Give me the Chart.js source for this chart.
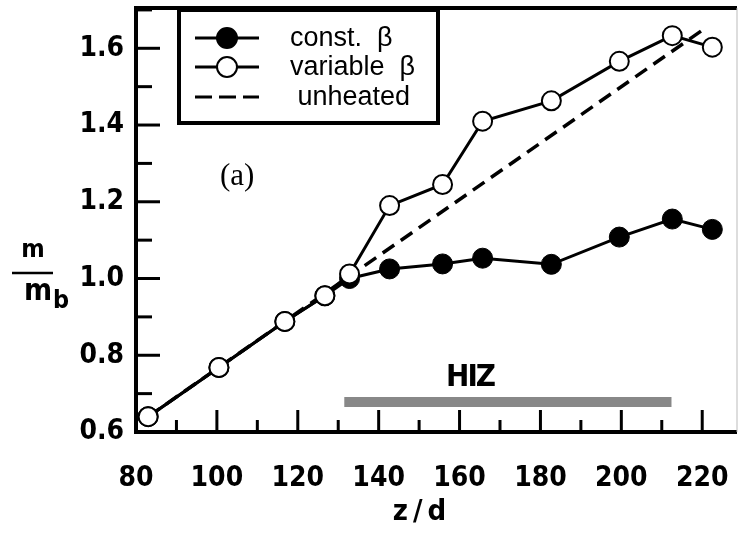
<!DOCTYPE html>
<html>
<head>
<meta charset="utf-8">
<script src="https://cdn.jsdelivr.net/npm/chart.js@4/dist/chart.umd.min.js"></script>
<style>
  html, body { margin: 0; padding: 0; background: #fff; }
  #wrap { width: 740px; height: 533px; }
</style>
</head>
<body>
<div id="wrap"><canvas id="mChart"></canvas></div>
<script>
//// data
const zd = [83, 100.5, 116.8, 126.7, 132.8, 142.7, 155.8, 165.7, 182.7, 199.5, 212.6, 222.5]
const constBeta = [0.64, 0.768, 0.888, 0.955, 1.0, 1.025, 1.038, 1.053, 1.037, 1.108, 1.155, 1.128]
const variableBeta = [0.64, 0.768, 0.888, 0.955, 1.012, 1.19, 1.245, 1.41, 1.463, 1.566, 1.633, 1.603]
const unheatedZ = [83, 220]
const unheated = [0.64, 1.647]
const hizZ = [131.5, 212.4]
const hizLevel = [0.678, 0.678]
const xTicks = [80, 100, 120, 140, 160, 180, 200, 220]
const yTicks = [0.6, 0.8, 1.0, 1.2, 1.4, 1.6]

const pts = (xs, ys) => xs.map((x, i) => ({ x: x, y: ys[i] }))

const FONT = "'DejaVu Sans Condensed', 'DejaVu Sans', sans-serif"

//// plugin: frame, inward ticks, legend, labels
const decor = {
    id: 'decor',
    afterDatasetsDraw(chart) {
        const ctx = chart.ctx
        const a = chart.chartArea
        const xs = chart.scales.x
        const ys = chart.scales.y
        ctx.save()
        ctx.strokeStyle = '#000'

        // minor + major ticks pointing inward
        ctx.lineWidth = 3
        xTicks.forEach(v => {
            const px = xs.getPixelForValue(v)
            if (v > 80) { ctx.beginPath(); ctx.moveTo(px, a.bottom); ctx.lineTo(px, a.bottom - 22); ctx.stroke() }
            const m = xs.getPixelForValue(v + 10)
            if (m < a.right - 5) { ctx.beginPath(); ctx.moveTo(m, a.bottom); ctx.lineTo(m, a.bottom - 12); ctx.stroke() }
        })
        yTicks.forEach(v => {
            const py = ys.getPixelForValue(v)
            if (v > 0.6) { ctx.beginPath(); ctx.moveTo(a.left, py); ctx.lineTo(a.left + 24, py); ctx.stroke() }
            const m = ys.getPixelForValue(v + 0.1)
            if (m > a.top + 1) { ctx.beginPath(); ctx.moveTo(a.left, m); ctx.lineTo(a.left + 16, m); ctx.stroke() }
        })

        // frame
        ctx.lineWidth = 4
        ctx.beginPath()
        ctx.moveTo(a.right, a.top); ctx.lineTo(a.left, a.top)
        ctx.lineTo(a.left, a.bottom); ctx.lineTo(a.right, a.bottom)
        ctx.stroke()
        ctx.lineWidth = 1
        ctx.strokeStyle = '#bbb'
        ctx.beginPath(); ctx.moveTo(a.right, a.top); ctx.lineTo(a.right, a.bottom); ctx.stroke()

        // legend box
        const lx = 179, ly = 10, lw = 259, lh = 113
        ctx.fillStyle = '#fff'
        ctx.fillRect(lx, ly, lw, lh)
        ctx.strokeStyle = '#000'
        ctx.lineWidth = 4
        ctx.strokeRect(lx, ly, lw, lh)
        const rows = [
            { t: 'const.  \u03b2', y: 38, fill: '#000', dash: [], mark: true },
            { t: 'variable  \u03b2', y: 67, fill: '#fff', dash: [], mark: true },
            { t: ' unheated', y: 97, fill: null, dash: [17, 7], mark: false }
        ]
        ctx.font = "27px 'Liberation Sans', Arial, sans-serif"
        ctx.textBaseline = 'middle'
        ctx.textAlign = 'left'
        rows.forEach(r => {
            ctx.strokeStyle = '#000'
            ctx.lineWidth = 3
            ctx.setLineDash(r.dash)
            ctx.beginPath(); ctx.moveTo(195, r.y); ctx.lineTo(259, r.y); ctx.stroke()
            ctx.setLineDash([])
            if (r.mark) {
                ctx.beginPath(); ctx.arc(227, r.y, 10, 0, Math.PI * 2)
                ctx.fillStyle = r.fill; ctx.fill()
                ctx.lineWidth = 2; ctx.stroke()
            }
            ctx.fillStyle = '#000'
            ctx.fillText(r.t, 290, r.y + 1)
        })

        // HIZ label and (a)
        ctx.fillStyle = '#000'
        ctx.textAlign = 'center'
        ctx.font = 'bold 31px ' + FONT
        ctx.letterSpacing = '-2px'
        ctx.fillText('HIZ', xs.getPixelForValue(162.6), ys.getPixelForValue(0.74))
        ctx.letterSpacing = '0px'
        ctx.font = "31px 'Liberation Serif', 'Times New Roman', serif"
        ctx.fillText('(a)', xs.getPixelForValue(105), ys.getPixelForValue(1.266))

        // axis titles
        ctx.font = 'bold 29px ' + FONT
        ctx.letterSpacing = '5px'
        ctx.fillText('z/d', 422, 512)
        ctx.letterSpacing = '0px'
        ctx.font = 'bold 25px ' + FONT
        ctx.fillText('m', 33, 250)
        ctx.lineWidth = 2.5
        ctx.beginPath(); ctx.moveTo(12, 273); ctx.lineTo(53, 273); ctx.stroke()
        ctx.font = 'bold 30px ' + FONT
        ctx.fillText('m', 38, 292)
        ctx.font = 'bold 25px ' + FONT
        ctx.fillText('b', 61, 301)
        ctx.restore()
    }
}

//// chart
let mChart = new Chart(document.querySelector('#mChart'), {
    type: 'scatter',
    data: {
        datasets: [
            {
                label: 'variable \u03b2',
                data: pts(zd, variableBeta),
                showLine: true,
                borderColor: '#000',
                borderWidth: 3,
                pointRadius: 9.5,
                pointBorderWidth: 2,
                pointBackgroundColor: '#fff',
                pointBorderColor: '#000'
            },
            {
                label: 'const. \u03b2',
                data: pts(zd, constBeta),
                showLine: true,
                borderColor: '#000',
                borderWidth: 3,
                pointRadius: 10,
                pointBorderWidth: 1,
                pointBackgroundColor: '#000',
                pointBorderColor: '#000'
            },
            {
                label: 'unheated',
                data: pts(unheatedZ, unheated),
                showLine: true,
                borderColor: '#000',
                borderWidth: 3.5,
                borderDash: [14, 8],
                pointRadius: 0
            },
            {
                label: 'HIZ',
                data: pts(hizZ, hizLevel),
                showLine: true,
                borderColor: '#888',
                borderWidth: 10,
                borderCapStyle: 'butt',
                pointRadius: 0
            }
        ]
    },
    options: {
        responsive: true,
        maintainAspectRatio: false,
        animation: false,
        layout: { autoPadding: false, padding: { top: 8, right: 3, left: 0, bottom: 0 } },
        plugins: {
            legend: { display: false },
            tooltip: { enabled: false }
        },
        scales: {
            x: {
                type: 'linear',
                min: 80,
                max: 228.6,
                afterFit: s => { s.height = 101; s.paddingLeft = 0; s.paddingRight = 0 },
                grid: { display: false, drawTicks: false },
                border: { display: false },
                ticks: {
                    stepSize: 20,
                    includeBounds: false,
                    padding: 30,
                    color: '#000',
                    font: { family: FONT, size: 28, weight: 'bold' }
                }
            },
            y: {
                type: 'linear',
                min: 0.6,
                max: 1.705,
                afterFit: s => { s.width = 136; s.paddingTop = 0; s.paddingBottom = 0 },
                grid: { display: false, drawTicks: false },
                border: { display: false },
                ticks: {
                    stepSize: 0.2,
                    includeBounds: false,
                    padding: 12,
                    color: '#000',
                    font: { family: FONT, size: 28, weight: 'bold' },
                    callback: v => v.toFixed(1)
                }
            }
        }
    },
    plugins: [decor]
});

mChart.update()
</script>
</body>
</html>
